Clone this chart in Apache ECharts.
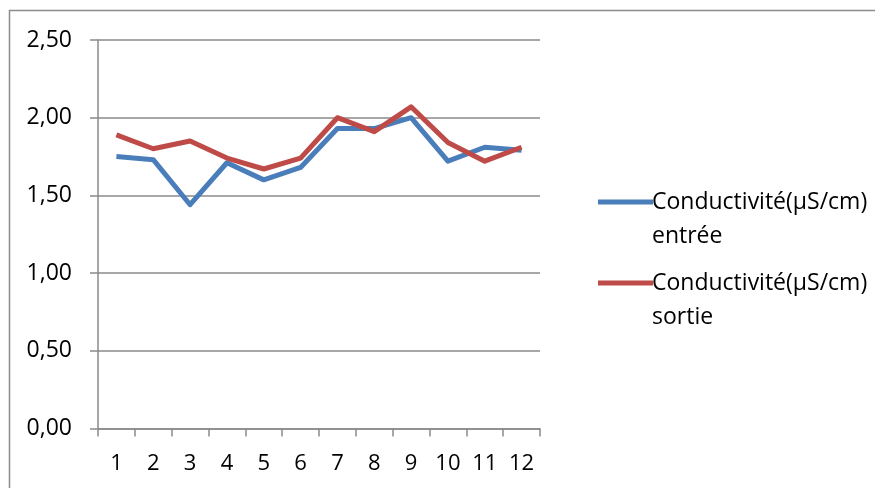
<!DOCTYPE html>
<html>
<head>
<meta charset="utf-8">
<script src="https://cdn.jsdelivr.net/npm/echarts@6/dist/echarts.min.js"></script>
<style>
  html, body { margin: 0; padding: 0; background: #fff; }
  #chart { width: 875px; height: 488px; }
</style>
</head>
<body>
<div id="chart"></div>
<script>
// Sample numbers along the x axis
const categories = ['1', '2', '3', '4', '5', '6', '7', '8', '9', '10', '11', '12'];

// Conductivity readings (µS/cm)
const entree = [1.75, 1.73, 1.44, 1.71, 1.60, 1.68, 1.93, 1.93, 2.00, 1.72, 1.81, 1.79];
const sortie = [1.89, 1.80, 1.85, 1.74, 1.67, 1.74, 2.00, 1.91, 2.07, 1.84, 1.72, 1.81];

const nameEntree = 'Conductivité(µS/cm) entrée';
const nameSortie = 'Conductivité(µS/cm) sortie';

const FONT = '"Open Sans", "Noto Sans", sans-serif';
const GRID_GRAY = '#8a8a8a';
const TEXT = '#000000';

const chart = echarts.init(document.getElementById('chart'), null, { renderer: 'canvas' });

// Legend label: an empty first line keeps the key line level with the first text line
function legendLabel(name) {
  const parts = name.split(' ');
  return '\n' + parts[0] + '\n' + parts.slice(1).join(' ');
}

const legendCommon = {
  orient: 'vertical',
  left: 593,
  icon: 'rect',
  itemWidth: 55,
  itemHeight: 5,
  itemGap: 0,
  selectedMode: false,
  textStyle: { fontFamily: FONT, fontSize: 23, color: TEXT, lineHeight: 34, padding: [0, 0, 0, -6] },
  formatter: legendLabel
};

chart.setOption({
  animation: false,
  backgroundColor: '#ffffff',
  graphic: [{
    type: 'rect',
    silent: true,
    shape: { x: 9.5, y: 10.5, width: 900, height: 600 },
    style: { fill: 'none', stroke: '#8c8c8c', lineWidth: 1.5 }
  }],
  grid: { left: 98, right: 335, top: 40, bottom: 59.5 },
  legend: [
    Object.assign({}, legendCommon, { top: 146, data: [nameEntree] }),
    Object.assign({}, legendCommon, { top: 227, data: [nameSortie] })
  ],
  xAxis: {
    type: 'category',
    data: categories,
    boundaryGap: true,
    axisLine: { show: true, lineStyle: { color: GRID_GRAY, width: 1.5 } },
    axisTick: { show: true, length: 8, lineStyle: { color: GRID_GRAY, width: 1.5 } },
    axisLabel: { fontFamily: FONT, fontSize: 22, color: TEXT, margin: 24 }
  },
  yAxis: {
    type: 'value',
    min: 0,
    max: 2.5,
    interval: 0.5,
    axisLine: { show: true, lineStyle: { color: GRID_GRAY, width: 1.5 } },
    axisTick: { show: true, length: 8, lineStyle: { color: GRID_GRAY, width: 1.5 } },
    splitLine: { show: true, lineStyle: { color: GRID_GRAY, width: 1.5 } },
    axisLabel: {
      fontFamily: FONT, fontSize: 23, color: TEXT, margin: 26,
      formatter: v => v.toFixed(2).replace('.', ',')
    }
  },
  series: [
    {
      name: nameEntree,
      type: 'line',
      data: entree,
      symbol: 'none',
      lineStyle: { color: '#4a7ebb', width: 5, join: 'round' },
      itemStyle: { color: '#4a7ebb' }
    },
    {
      name: nameSortie,
      type: 'line',
      data: sortie,
      symbol: 'none',
      lineStyle: { color: '#be4b48', width: 5, join: 'round' },
      itemStyle: { color: '#be4b48' }
    }
  ]
});
</script>
</body>
</html>
